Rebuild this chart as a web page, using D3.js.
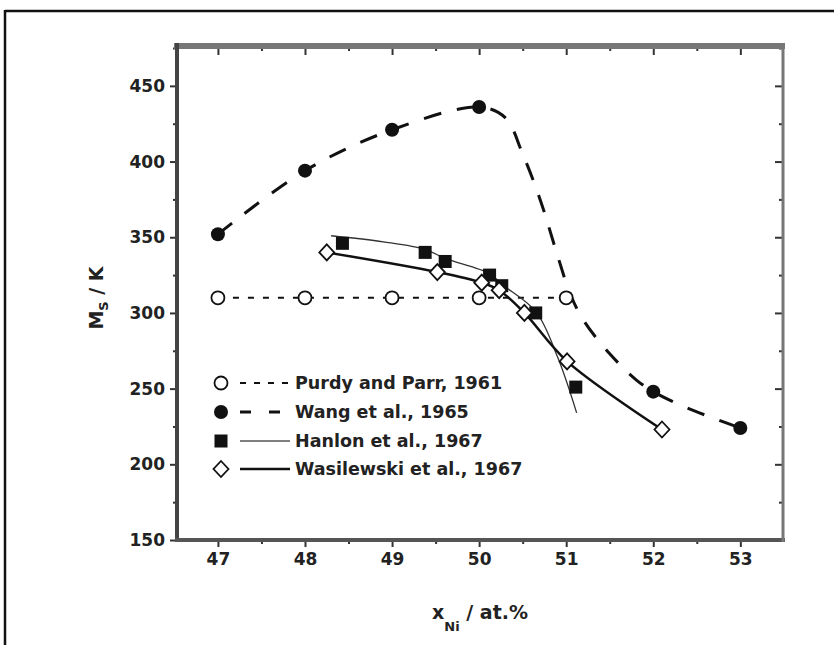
<!DOCTYPE html>
<html>
<head>
<meta charset="utf-8">
<script src="https://cdnjs.cloudflare.com/ajax/libs/d3/7.8.5/d3.min.js"></script>
<style>
  body { margin: 0; background: #fff; }
  text { font-family: "DejaVu Sans", sans-serif; font-weight: bold; fill: #222; }
</style>
</head>
<body>
<svg id="chart" width="835" height="645"></svg>
<script>
// measured points
var purdyX = [47, 48, 49, 50, 51];
var purdyY = [310, 310, 310, 310, 310];

var wangX = [47, 48, 49, 50, 52, 53];
var wangY = [352, 394, 421, 436, 248, 224];
// dashed guide curve of Wang et al.
var wangFitX = [47, 48, 49, 50, 50.3, 50.5, 50.7, 50.9, 51.05, 51.2, 51.5, 51.8, 52, 52.4, 53];
var wangFitY = [352, 394, 421, 436, 429, 405, 375, 338, 312, 295, 273, 256, 248, 237, 224];

var hanlonX = [48.43, 49.38, 49.61, 50.12, 50.26, 50.65, 51.11];
var hanlonY = [346, 340, 334, 325, 318, 300, 251];
// thin fit line of Hanlon et al.
var hanlonFitX = [48.3, 48.9, 49.38, 49.61, 50.12, 50.26, 50.65, 50.9, 51.12];
var hanlonFitY = [351, 347, 342, 336, 326, 319, 301, 271, 234];

var wasX = [48.25, 49.52, 50.03, 50.23, 50.52, 51.01, 52.1];
var wasY = [340, 327, 320, 315, 300, 268, 223];

var xTicks = [47, 48, 49, 50, 51, 52, 53];
var yTicks = [150, 200, 250, 300, 350, 400, 450];
var legendLabels = ['Purdy and Parr, 1961', 'Wang et al., 1965', 'Hanlon et al., 1967', 'Wasilewski et al., 1967'];

var svg = d3.select('#chart');
var x = d3.scaleLinear().domain([46.53, 53.49]).range([177, 783]);
var y = d3.scaleLinear().domain([150, 477]).range([540, 45]);

function pts(xs, ys) {
  return xs.map(function(v, i) { return [x(v), y(ys[i])]; });
}

// page frame
svg.append('line').attr('x1', 5).attr('x2', 834).attr('y1', 11).attr('y2', 11)
  .attr('stroke', '#111').attr('stroke-width', 2.5);
svg.append('line').attr('x1', 5).attr('x2', 5).attr('y1', 10).attr('y2', 645)
  .attr('stroke', '#111').attr('stroke-width', 2.5);

// axes
var minorX = d3.range(46.5, 53.51, 0.5).filter(function(v){ return v > 46.53 && v < 53.49 && v % 1 != 0; });
var minorY = d3.range(175, 477, 50);

var g = svg.append('g');
g.append('g').attr('transform', 'translate(0,540)')
  .call(d3.axisBottom(x).tickValues(xTicks).tickSize(7).tickPadding(6).tickFormat(d3.format('d')));
g.append('g').attr('transform', 'translate(0,540)')
  .call(d3.axisBottom(x).tickValues(minorX).tickSize(4).tickFormat(''));
g.append('g').attr('transform', 'translate(0,45)')
  .call(d3.axisBottom(x).tickValues(xTicks).tickSize(10).tickFormat(''));
g.append('g').attr('transform', 'translate(0,45)')
  .call(d3.axisBottom(x).tickValues(minorX).tickSize(6).tickFormat(''));
g.append('g').attr('transform', 'translate(177,0)')
  .call(d3.axisLeft(y).tickValues(yTicks).tickSize(7).tickPadding(5).tickFormat(d3.format('d')));
g.append('g').attr('transform', 'translate(177,0)')
  .call(d3.axisLeft(y).tickValues(minorY).tickSize(4).tickFormat(''));
g.append('g').attr('transform', 'translate(783,0)')
  .call(d3.axisLeft(y).tickValues(yTicks).tickSize(8).tickFormat(''));
g.append('g').attr('transform', 'translate(783,0)')
  .call(d3.axisLeft(y).tickValues(minorY).tickSize(4).tickFormat(''));
g.selectAll('.domain').remove();
g.selectAll('.tick line').attr('stroke', '#333').attr('stroke-width', 2);
g.selectAll('.tick text').attr('font-size', 17).attr('font-family', '"DejaVu Sans", sans-serif')
  .attr('font-weight', 'bold').attr('fill', '#2a2a2a');

// axis frame lines
svg.append('line').attr('x1', 174).attr('x2', 785).attr('y1', 46).attr('y2', 46).attr('stroke', '#777').attr('stroke-width', 6);
svg.append('line').attr('x1', 177).attr('x2', 177).attr('y1', 43).attr('y2', 542).attr('stroke', '#444').attr('stroke-width', 4);
svg.append('line').attr('x1', 175).attr('x2', 785).attr('y1', 540).attr('y2', 540).attr('stroke', '#555').attr('stroke-width', 4);
svg.append('line').attr('x1', 783).attr('x2', 783).attr('y1', 43).attr('y2', 542).attr('stroke', '#777').attr('stroke-width', 3);

// lines
var smooth = d3.line().curve(d3.curveCatmullRom.alpha(0.5));
var straight = d3.line();
svg.append('path').attr('d', straight(pts(purdyX, purdyY))).attr('fill', 'none')
  .attr('stroke', '#111').attr('stroke-width', 2).attr('stroke-dasharray', '6,9');
svg.append('path').attr('d', smooth(pts(wangFitX, wangFitY))).attr('fill', 'none')
  .attr('stroke', '#111').attr('stroke-width', 3).attr('stroke-dasharray', '18,16');
svg.append('path').attr('d', smooth(pts(hanlonFitX, hanlonFitY))).attr('fill', 'none')
  .attr('stroke', '#333').attr('stroke-width', 1.3);
svg.append('path').attr('d', smooth(pts(wasX, wasY))).attr('fill', 'none')
  .attr('stroke', '#111').attr('stroke-width', 2.5);

// markers
function circle(sel, cx, cy, filled) {
  sel.append('circle').attr('cx', cx).attr('cy', cy).attr('r', filled ? 7 : 6.5)
    .attr('fill', filled ? '#111' : '#fff').attr('stroke', '#111').attr('stroke-width', filled ? 0 : 1.8);
}
function square(sel, cx, cy) {
  sel.append('rect').attr('x', cx - 6.5).attr('y', cy - 6.5).attr('width', 13).attr('height', 13).attr('fill', '#111');
}
function diamond(sel, cx, cy) {
  sel.append('path').attr('d', 'M' + cx + ',' + (cy - 8) + 'L' + (cx + 7.5) + ',' + cy + 'L' + cx + ',' + (cy + 8) + 'L' + (cx - 7.5) + ',' + cy + 'Z')
    .attr('fill', '#fff').attr('stroke', '#111').attr('stroke-width', 1.8);
}

var marks = svg.append('g');
pts(purdyX, purdyY).forEach(function(p){ circle(marks, p[0], p[1], false); });
pts(wangX, wangY).forEach(function(p){ circle(marks, p[0], p[1], true); });
pts(hanlonX, hanlonY).forEach(function(p){ square(marks, p[0], p[1]); });
pts(wasX, wasY).forEach(function(p){ diamond(marks, p[0], p[1]); });

// legend
var lg = svg.append('g');
var rows = [383, 412, 441, 469];
circle(lg, 221, rows[0], false);
circle(lg, 221, rows[1], true);
square(lg, 221, rows[2]);
diamond(lg, 221, rows[3]);
lg.append('line').attr('x1', 240).attr('x2', 290).attr('y1', rows[0]).attr('y2', rows[0])
  .attr('stroke', '#111').attr('stroke-width', 2).attr('stroke-dasharray', '6,8');
lg.append('line').attr('x1', 240).attr('x2', 288).attr('y1', rows[1]).attr('y2', rows[1])
  .attr('stroke', '#111').attr('stroke-width', 3).attr('stroke-dasharray', '11,18');
lg.append('line').attr('x1', 240).attr('x2', 290).attr('y1', rows[2]).attr('y2', rows[2])
  .attr('stroke', '#555').attr('stroke-width', 1.5);
lg.append('line').attr('x1', 240).attr('x2', 290).attr('y1', rows[3]).attr('y2', rows[3])
  .attr('stroke', '#111').attr('stroke-width', 2.5);
legendLabels.forEach(function(t, i) {
  lg.append('text').attr('x', 295).attr('y', rows[i] + 6).attr('font-size', 17.5).text(t);
});

// axis titles
var yt = svg.append('text').attr('transform', 'translate(103,298) rotate(-90)')
  .attr('text-anchor', 'middle').attr('font-size', 19);
yt.append('tspan').text('M');
yt.append('tspan').attr('font-size', 13).attr('dy', 5).text('S');
yt.append('tspan').attr('dy', -5).text(' / K');

var xt = svg.append('text').attr('x', 480).attr('y', 619).attr('text-anchor', 'middle').attr('font-size', 19);
xt.append('tspan').text('x');
xt.append('tspan').attr('font-size', 13).attr('dy', 12).text('Ni');
xt.append('tspan').attr('dy', -12).text(' / at.%');
</script>
</body>
</html>
